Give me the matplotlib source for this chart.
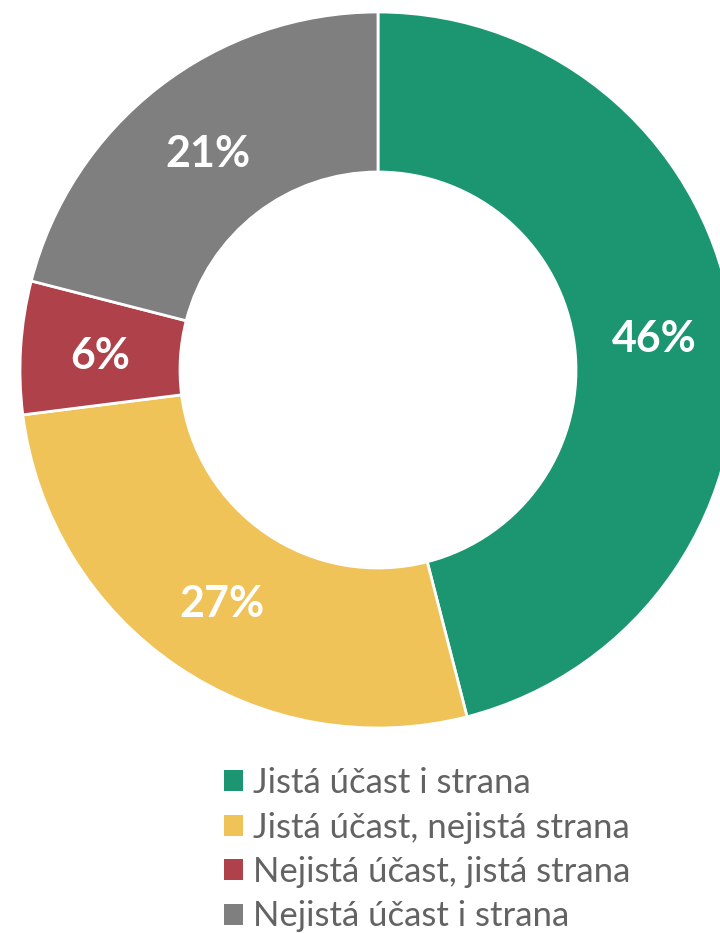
import matplotlib
matplotlib.use("Agg")
import matplotlib.pyplot as plt
from matplotlib.patches import Patch
import numpy as np

categories = ["Jistá účast i strana", "Jistá účast, nejistá strana",
              "Nejistá účast, jistá strana", "Nejistá účast i strana"]
values = [46, 27, 6, 21]
colors = ["#1B9670", "#EFC357", "#AE4149", "#7F7F7F"]

plt.rcParams['font.family'] = ['Lato', 'DejaVu Sans']

W, H = 720, 933
fig = plt.figure(figsize=(W / 100, H / 100), dpi=100)
ax = fig.add_axes([0, 0, 1, 1])
cx, cy, R = 378, 370, 358

ring = 1 - 198 / R
wedges, _ = ax.pie(values, colors=colors, startangle=90, counterclock=False,
                   radius=1, wedgeprops=dict(width=ring, edgecolor='white', linewidth=2))
ax.set_xlim(-cx / R, (W - cx) / R)
ax.set_ylim(-(H - cy) / R, cy / R)
ax.set_aspect('equal', adjustable='box')
ax.axis('off')

mid_r = 1 - ring / 2
for w, v in zip(wedges, values):
    ang = np.deg2rad((w.theta1 + w.theta2) / 2)
    ax.text(mid_r * np.cos(ang), mid_r * np.sin(ang) - 0.01, f"{v}%", ha='center', va='center',
            color='white', fontsize=31, fontweight='bold')

handles = [Patch(facecolor=c, edgecolor='none') for c in colors]
leg = fig.legend(handles, categories, loc='upper left', bbox_to_anchor=(224 / W, 1 - 767 / H),
                 frameon=False, fontsize=25, handlelength=0.55, handleheight=0.55,
                 handletextpad=0.28, labelspacing=0.36, borderpad=0, borderaxespad=0)
for t in leg.get_texts():
    t.set_color('#636363')

fig.savefig("out.png", dpi=100)
